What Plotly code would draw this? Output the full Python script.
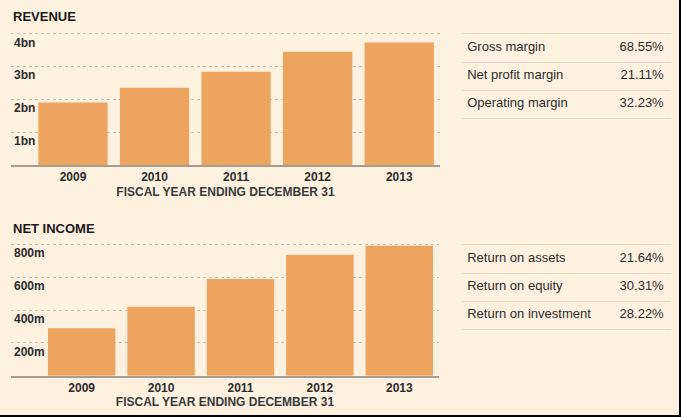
import plotly.graph_objects as go

# ---- data ----
years = ["2009", "2010", "2011", "2012", "2013"]
revenue_bn = [1.91, 2.36, 2.85, 3.46, 3.74]
net_income_m = [290, 422, 591, 740, 795]

rev_tickvals = [1, 2, 3, 4]
rev_ticktext = ["1bn", "2bn", "3bn", "4bn"]
ni_tickvals = [200, 400, 600, 800]
ni_ticktext = ["200m", "400m", "600m", "800m"]

rev_table_labels = ["Gross margin", "Net profit margin", "Operating margin"]
rev_table_values = ["68.55%", "21.11%", "32.23%"]
ni_table_labels = ["Return on assets", "Return on equity", "Return on investment"]
ni_table_values = ["21.64%", "30.31%", "28.22%"]

x_title = "FISCAL YEAR ENDING DECEMBER 31"

# ---- styles ----
W, H = 681, 417
BG = "#fff1e0"
BAR = "#eda45f"
GRID = "#c9beb0"
BASE = "#a59c92"
TXT = "#2b2b2b"
FONT = "Liberation Sans, Arial, sans-serif"
TABLE_LINE = "#e6d8c6"


def px_x(p):
    return p / W


def px_y(p):
    return 1 - p / H


fig = go.Figure()

# Revenue bars
fig.add_trace(go.Bar(x=years, y=revenue_bn, marker=dict(color=BAR, line=dict(width=0)),
                     xaxis="x", yaxis="y", hoverinfo="skip"))
# Net income bars
fig.add_trace(go.Bar(x=years, y=net_income_m, marker=dict(color=BAR, line=dict(width=0)),
                     xaxis="x2", yaxis="y2", hoverinfo="skip"))

# Tables as text traces
LBL_X, VAL_X = 0.025, 0.965
rows = list(range(len(rev_table_labels)))
fig.add_trace(go.Scatter(x=[LBL_X] * len(rows), y=rows, text=rev_table_labels, mode="text",
                         textposition="middle right", xaxis="x3", yaxis="y3",
                         textfont=dict(family=FONT, size=13, color=TXT), hoverinfo="skip"))
fig.add_trace(go.Scatter(x=[VAL_X] * len(rows), y=rows, text=rev_table_values, mode="text",
                         textposition="middle left", xaxis="x3", yaxis="y3",
                         textfont=dict(family=FONT, size=13, color=TXT), hoverinfo="skip"))
rows2 = list(range(len(ni_table_labels)))
fig.add_trace(go.Scatter(x=[LBL_X] * len(rows2), y=rows2, text=ni_table_labels, mode="text",
                         textposition="middle right", xaxis="x4", yaxis="y4",
                         textfont=dict(family=FONT, size=13, color=TXT), hoverinfo="skip"))
fig.add_trace(go.Scatter(x=[VAL_X] * len(rows2), y=rows2, text=ni_table_values, mode="text",
                         textposition="middle left", xaxis="x4", yaxis="y4",
                         textfont=dict(family=FONT, size=13, color=TXT), hoverinfo="skip"))

tick_font = dict(family=FONT, size=12, color=TXT, weight="bold")
title_font = dict(family=FONT, size=12, color="#3a3a3a", weight="bold")


def bar_xaxis(domain, rng):
    return dict(domain=domain, type="category", range=rng, showline=True, linecolor=BASE,
                linewidth=2, showgrid=False, zeroline=False, ticks="",
                tickfont=tick_font, fixedrange=True,
                title=dict(text=x_title, font=title_font, standoff=4))


def bar_yaxis(domain, rng, tv, tt, anchor):
    return dict(domain=domain, range=rng, tickvals=tv, ticktext=tt, showgrid=True,
                gridcolor=GRID, griddash="dot", gridwidth=1, zeroline=False, showline=False,
                ticks="", ticklabelposition="inside bottom", tickfont=tick_font,
                anchor=anchor, fixedrange=True)


fig.update_layout(
    width=W, height=H, margin=dict(l=0, r=0, t=0, b=0),
    paper_bgcolor=BG, plot_bgcolor=BG, showlegend=False, bargap=0.15,
    font=dict(family=FONT, color=TXT),
    xaxis=bar_xaxis([px_x(11), px_x(440)], [-0.76, 4.5]),
    yaxis=bar_yaxis([px_y(165), px_y(30.7)], [0, 4.1], rev_tickvals, rev_ticktext, "x"),
    xaxis2=dict(bar_xaxis([px_x(11), px_x(439)], [-0.89, 4.5]), anchor="y2"),
    yaxis2=bar_yaxis([px_y(375.7), px_y(241.6)], [0, 820], ni_tickvals, ni_ticktext, "x2"),
    xaxis3=dict(domain=[px_x(462), px_x(671)], range=[0, 1], anchor="y3", showline=True,
                mirror=True, linecolor=TABLE_LINE, linewidth=1, showgrid=False,
                zeroline=False, showticklabels=False, ticks="", fixedrange=True),
    yaxis3=dict(domain=[px_y(118), px_y(34)], range=[2.5, -0.5], anchor="x3",
                tickvals=[0.5, 1.5], showgrid=True, gridcolor=TABLE_LINE, gridwidth=1,
                zeroline=False, showline=False, showticklabels=False, ticks="",
                fixedrange=True),
    xaxis4=dict(domain=[px_x(462), px_x(671)], range=[0, 1], anchor="y4", showline=True,
                mirror=True, linecolor=TABLE_LINE, linewidth=1, showgrid=False,
                zeroline=False, showticklabels=False, ticks="", fixedrange=True),
    yaxis4=dict(domain=[px_y(329), px_y(245)], range=[2.5, -0.5], anchor="x4",
                tickvals=[0.5, 1.5], showgrid=True, gridcolor=TABLE_LINE, gridwidth=1,
                zeroline=False, showline=False, showticklabels=False, ticks="",
                fixedrange=True),
    annotations=[
        dict(text="REVENUE", x=px_x(11), y=px_y(17), xref="paper", yref="paper",
             xanchor="left", yanchor="middle", showarrow=False,
             font=dict(family=FONT, size=13, color="#1a1a1a", weight="bold")),
        dict(text="NET INCOME", x=px_x(11), y=px_y(228), xref="paper", yref="paper",
             xanchor="left", yanchor="middle", showarrow=False,
             font=dict(family=FONT, size=13, color="#1a1a1a", weight="bold")),
    ],
    shapes=[
        dict(type="line", xref="paper", yref="paper", x0=1, x1=1, y0=0, y1=1,
             line=dict(color="#000000", width=4)),
        dict(type="line", xref="paper", yref="paper", x0=0, x1=1, y0=0, y1=0,
             line=dict(color="#000000", width=4)),
    ],
)

fig.write_html(
    "out.html",
    config={"displayModeBar": False},
    post_script="document.body.style.margin='0';document.body.style.overflow='hidden';"
                "document.body.style.background='" + BG + "';",
)
